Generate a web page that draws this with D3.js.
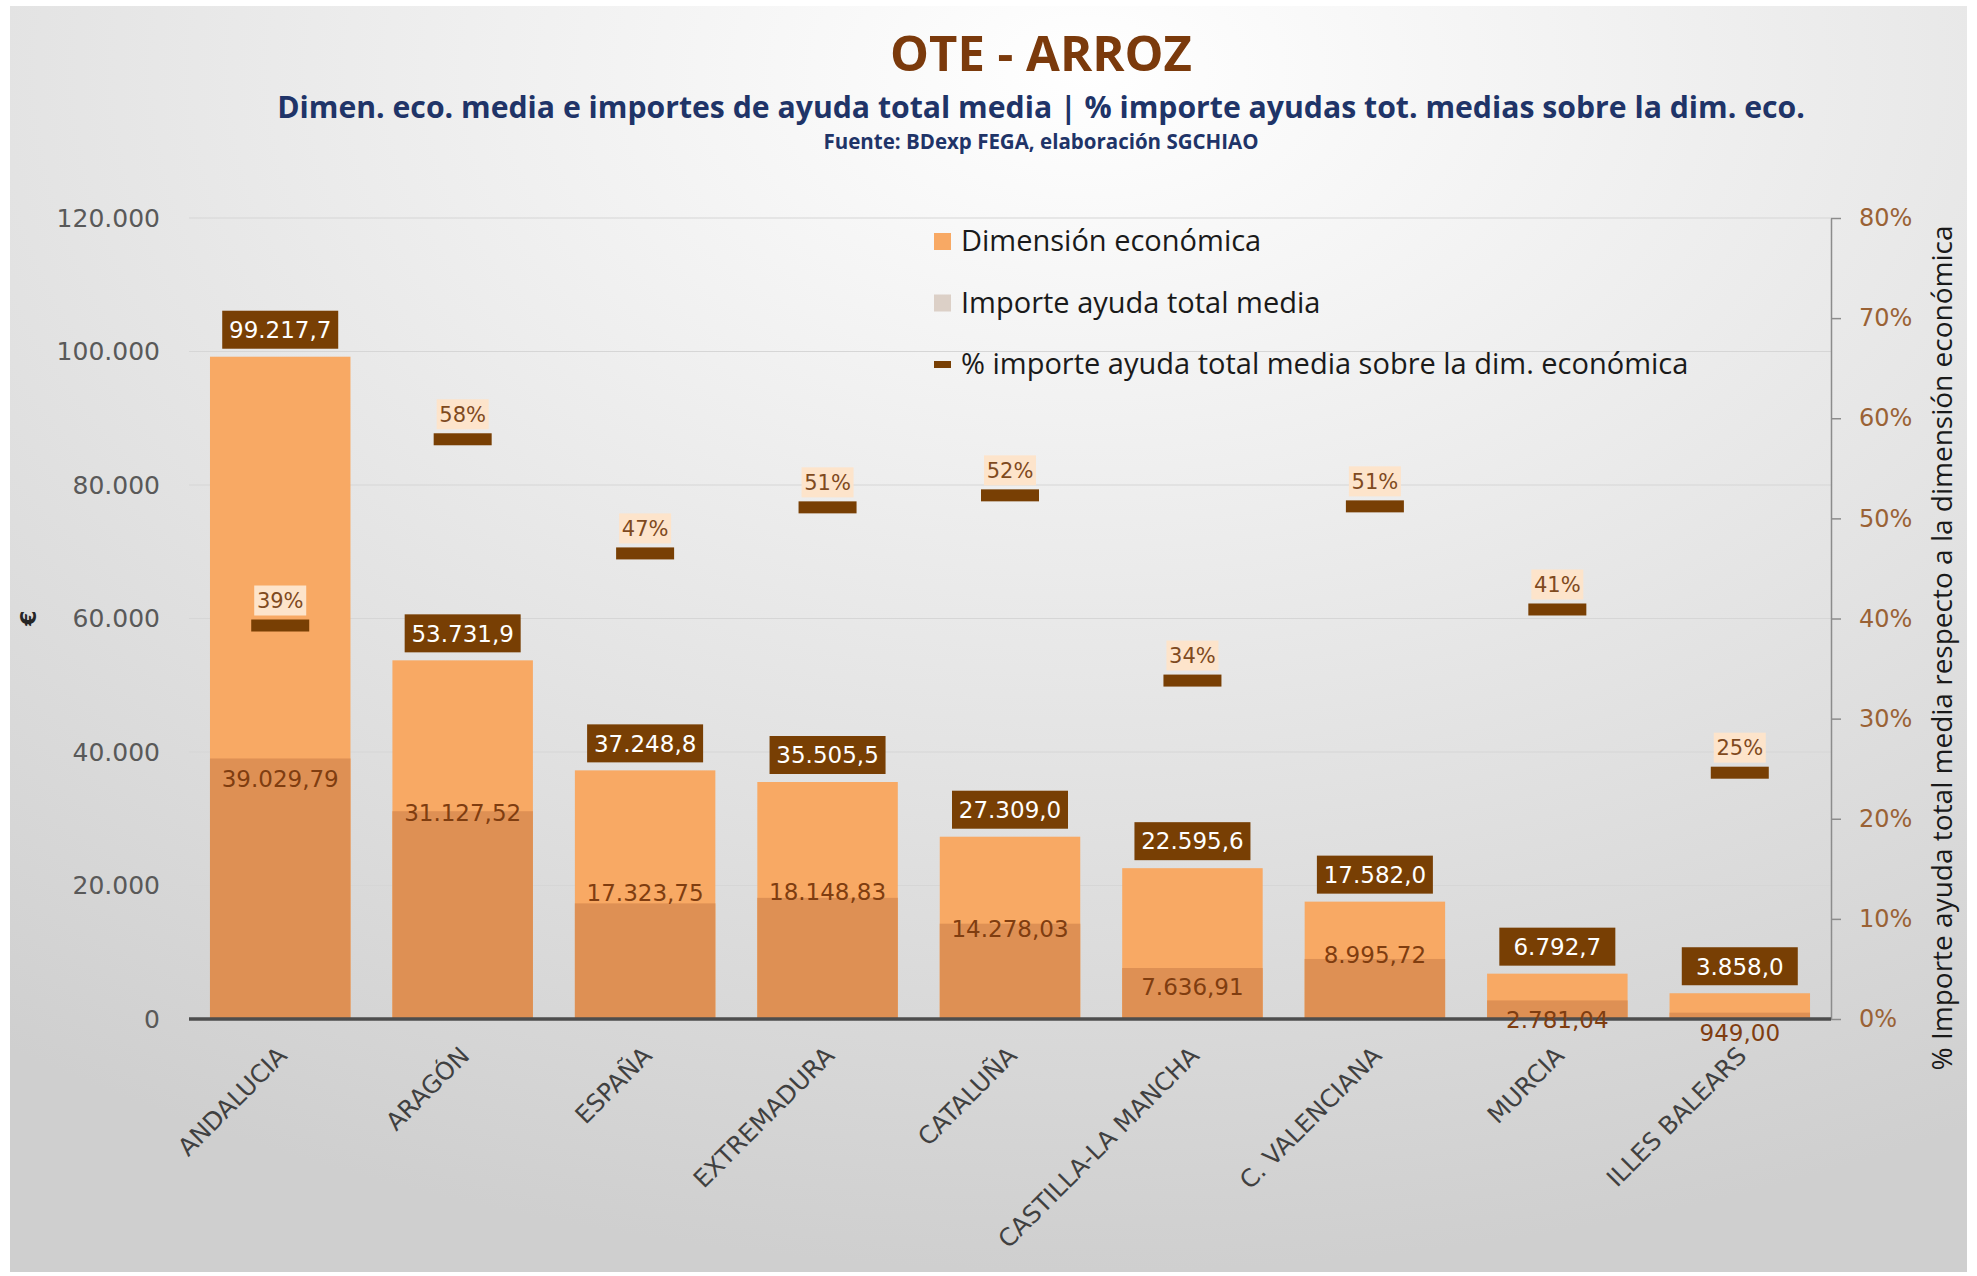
<!DOCTYPE html>
<html>
<head>
<meta charset="utf-8">
<script src="https://cdn.jsdelivr.net/npm/d3@7"></script>
<style>
  body { margin: 0; background: #fff; }
  svg text { font-family: 'DejaVu Sans', sans-serif; }
</style>
</head>
<body>
<div id="chart"></div>
<script>
const categories = ['ANDALUCIA', 'ARAGÓN', 'ESPAÑA', 'EXTREMADURA', 'CATALUÑA',
  'CASTILLA-LA MANCHA', 'C. VALENCIANA', 'MURCIA', 'ILLES BALEARS']
const dimension = [99217.7, 53731.9, 37248.8, 35505.5, 27309.0, 22595.6, 17582.0, 6792.7, 3858.0]
const importe = [39029.79, 31127.52, 17323.75, 18148.83, 14278.03, 7636.91, 8995.72, 2781.04, 949.00]
const pct = [0.393, 0.579, 0.465, 0.511, 0.523, 0.338, 0.512, 0.409, 0.246]
const leftTicks = [0, 20000, 40000, 60000, 80000, 100000, 120000]
const rightTicks = [0, 0.1, 0.2, 0.3, 0.4, 0.5, 0.6, 0.7, 0.8]
const legendLabels = ['Dimensión económica', 'Importe ayuda total media',
  '% importe ayuda total media sobre la dim. económica']

const width = 1977
const height = 1276
const margin = { top: 218, right: 146, bottom: 257, left: 189 }

const esLocale = d3.formatLocale({ decimal: ',', thousands: '.', grouping: [3], currency: ['', '€'] })
const fmtInt = esLocale.format(',.0f')
const fmt1 = esLocale.format(',.1f')
const fmt2 = esLocale.format(',.2f')
const fmtPct = d3.format('.0%')

const colors = {
  dim: '#F8A964',
  imp: '#DE9054',
  brown: '#783F04',
  peach: '#FDE4CB',
  legendImp: '#DCD0C7'
}

const svg = d3.select('#chart').append('svg')
  .attr('width', width)
  .attr('height', height)

// background
const defs = svg.append('defs')
const grad = defs.append('radialGradient')
  .attr('id', 'bg')
  .attr('cx', '55%').attr('cy', '5%').attr('r', '95%')
  .attr('gradientUnits', 'objectBoundingBox')
grad.append('stop').attr('offset', '0%').attr('stop-color', '#ffffff')
grad.append('stop').attr('offset', '100%').attr('stop-color', '#cfcfcf')

svg.append('rect')
  .attr('x', 10).attr('y', 6)
  .attr('width', width - 20).attr('height', height - 10)
  .attr('fill', 'url(#bg)')

// titles
svg.append('text')
  .attr('x', 1041).attr('y', 71)
  .attr('text-anchor', 'middle')
  .style('font-family', "'Open Sans', sans-serif")
  .style('font-weight', 700)
  .style('font-size', '49px')
  .attr('fill', '#7B3A0C')
  .text('OTE - ARROZ')

svg.append('text')
  .attr('x', 1041).attr('y', 118)
  .attr('text-anchor', 'middle')
  .style('font-family', "'Open Sans', sans-serif")
  .style('font-weight', 700)
  .style('font-size', '30.2px')
  .attr('fill', '#1F3468')
  .text('Dimen. eco. media e importes de ayuda total media | % importe ayudas tot. medias sobre la dim. eco.')

svg.append('text')
  .attr('x', 1041).attr('y', 149)
  .attr('text-anchor', 'middle')
  .style('font-family', "'Open Sans', sans-serif")
  .style('font-weight', 700)
  .style('font-size', '20.5px')
  .attr('fill', '#1F3468')
  .text('Fuente: BDexp FEGA, elaboración SGCHIAO')

const innerW = width - margin.left - margin.right
const innerH = height - margin.top - margin.bottom
const g = svg.append('g').attr('transform', `translate(${margin.left},${margin.top})`)

const x = d3.scaleBand().domain(categories).range([0, innerW]).paddingInner(0.23).paddingOuter(0.115)
const y = d3.scaleLinear().domain([0, 120000]).range([innerH, 0])
const y2 = d3.scaleLinear().domain([0, 0.8]).range([innerH, 0])

// gridlines
g.append('g').selectAll('line')
  .data(leftTicks.slice(1))
  .join('line')
  .attr('x1', 0).attr('x2', innerW)
  .attr('y1', d => y(d)).attr('y2', d => y(d))
  .attr('stroke', '#d6d6d6').attr('stroke-width', 1.2)

// left axis
const leftAxis = g.append('g')
  .attr('transform', 'translate(-29,0)')
  .call(d3.axisLeft(y).tickValues(leftTicks).tickFormat(fmtInt).tickSize(0).tickPadding(0))
leftAxis.select('.domain').remove()
leftAxis.selectAll('text')
  .style('font-size', '25px')
  .attr('fill', '#595959')

// right axis
const rightAxis = g.append('g')
  .attr('transform', `translate(${innerW},0)`)
  .call(d3.axisRight(y2).tickValues(rightTicks).tickFormat(fmtPct).tickSize(10).tickPadding(18).tickSizeOuter(0))
rightAxis.select('.domain').attr('stroke', '#8c8c8c').attr('stroke-width', 1.5)
rightAxis.selectAll('.tick line').attr('stroke', '#8c8c8c').attr('stroke-width', 1.5)
rightAxis.selectAll('text')
  .style('font-size', '24px')
  .attr('fill', '#9A6235')

// bars
g.append('g').selectAll('rect')
  .data(categories)
  .join('rect')
  .attr('x', d => x(d))
  .attr('width', x.bandwidth())
  .attr('y', (d, i) => y(dimension[i]))
  .attr('height', (d, i) => innerH - y(dimension[i]))
  .attr('fill', colors.dim)

g.append('g').selectAll('rect')
  .data(categories)
  .join('rect')
  .attr('x', d => x(d))
  .attr('width', x.bandwidth())
  .attr('y', (d, i) => y(importe[i]))
  .attr('height', (d, i) => innerH - y(importe[i]))
  .attr('fill', colors.imp)

// zero axis line
g.append('line')
  .attr('x1', 0).attr('x2', innerW)
  .attr('y1', innerH).attr('y2', innerH)
  .attr('stroke', '#4d4d4d').attr('stroke-width', 3.5)

// dimension value labels (dark boxes)
const dimLabels = g.append('g').selectAll('g')
  .data(categories)
  .join('g')
  .attr('transform', (d, i) => `translate(${x(d) + x.bandwidth() / 2},${y(dimension[i]) - 27})`)
dimLabels.append('rect')
  .attr('x', -58).attr('y', -19).attr('width', 116).attr('height', 38)
  .attr('fill', colors.brown)
dimLabels.append('text')
  .attr('text-anchor', 'middle')
  .attr('dy', '0.36em')
  .style('font-size', '23px')
  .attr('fill', '#fff')
  .text((d, i) => fmt1(dimension[i]))

// importe value labels (hand-placed in the original, nudged from the bar top)
const importeLabelShift = [20, 1, -11, -6, 5, 19, -4, 19, 20]
g.append('g').selectAll('text')
  .data(categories)
  .join('text')
  .attr('x', d => x(d) + x.bandwidth() / 2)
  .attr('y', (d, i) => y(importe[i]) + importeLabelShift[i])
  .attr('dy', '0.36em')
  .attr('text-anchor', 'middle')
  .style('font-size', '23px')
  .attr('fill', '#7F3D10')
  .text((d, i) => fmt2(importe[i]))

// percent markers
g.append('g').selectAll('rect')
  .data(categories)
  .join('rect')
  .attr('x', d => x(d) + x.bandwidth() / 2 - 29)
  .attr('y', (d, i) => y2(pct[i]) - 6)
  .attr('width', 58).attr('height', 12)
  .attr('fill', colors.brown)

const pctLabels = g.append('g').selectAll('g')
  .data(categories)
  .join('g')
  .attr('transform', (d, i) => `translate(${x(d) + x.bandwidth() / 2},${y2(pct[i]) - 25})`)
pctLabels.append('rect')
  .attr('x', -26).attr('y', -15).attr('width', 52).attr('height', 30)
  .attr('fill', colors.peach)
pctLabels.append('text')
  .attr('text-anchor', 'middle')
  .attr('dy', '0.36em')
  .style('font-size', '21px')
  .attr('fill', '#7F4A1E')
  .text((d, i) => fmtPct(pct[i]))

// category labels
g.append('g').selectAll('text')
  .data(categories)
  .join('text')
  .attr('transform', d => `translate(${x(d) + x.bandwidth() / 2 + 2},${innerH + 32}) rotate(-45)`)
  .attr('text-anchor', 'end')
  .attr('dy', '0.36em')
  .style('font-size', '24.5px')
  .attr('fill', '#404040')
  .text(d => d)

// axis titles
svg.append('text')
  .attr('transform', 'translate(36,618) rotate(-90)')
  .attr('text-anchor', 'middle')
  .style('font-size', '22px')
  .style('font-weight', 700)
  .attr('fill', '#262626')
  .text('€')

svg.append('text')
  .attr('transform', 'translate(1942,648) rotate(-90)')
  .attr('text-anchor', 'middle')
  .attr('dy', '0.36em')
  .style('font-family', "'Open Sans', sans-serif")
  .style('font-size', '28px')
  .attr('fill', '#1a1a1a')
  .text('% Importe ayuda total media respecto a la dimensión económica')

// legend
const legend = svg.append('g').attr('transform', 'translate(934,241)')
const legendRows = legend.selectAll('g')
  .data(legendLabels)
  .join('g')
  .attr('transform', (d, i) => `translate(0,${i * 61.5})`)
legendRows.append('rect')
  .attr('x', 0)
  .attr('y', (d, i) => i === 2 ? -3 : -8)
  .attr('width', 17)
  .attr('height', (d, i) => i === 2 ? 7 : 17)
  .attr('fill', (d, i) => [colors.dim, colors.legendImp, colors.brown][i])
legendRows.append('text')
  .attr('x', 27)
  .attr('dy', '0.36em')
  .style('font-family', "'Open Sans', sans-serif")
  .style('font-size', '29px')
  .attr('fill', '#1a1a1a')
  .text(d => d)
</script>
</body>
</html>
